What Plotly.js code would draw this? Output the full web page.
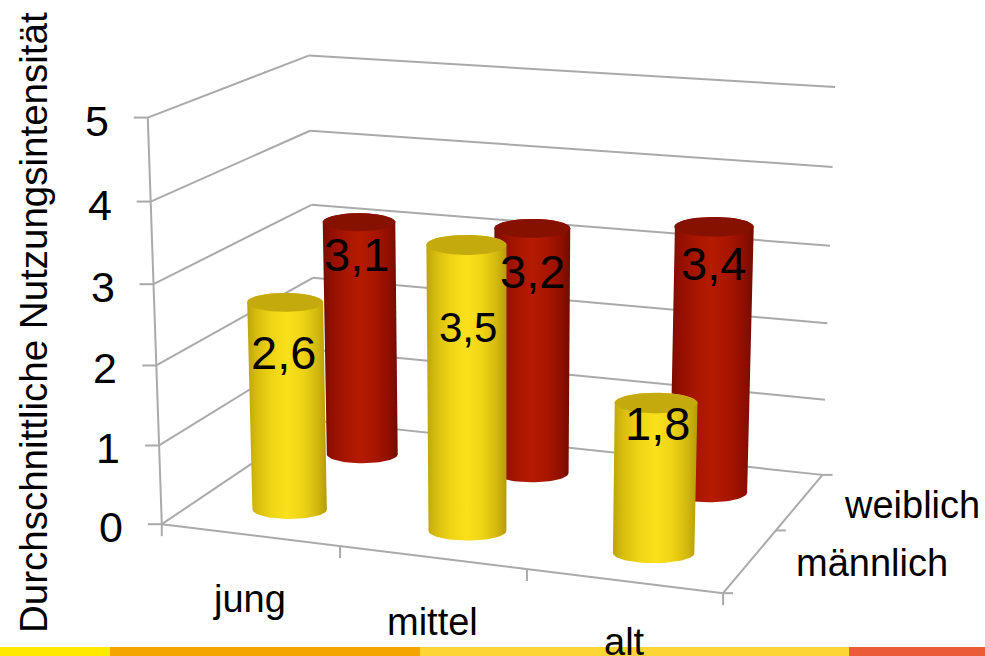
<!DOCTYPE html>
<html><head><meta charset="utf-8"><script src="https://cdn.plot.ly/plotly-3.0.1.min.js"></script>
<style>html,body{margin:0;padding:0;background:#fff}#chart{width:985px;height:656px}</style></head>
<body><div id="chart"></div>
<script>
const ageGroups=['jung','mittel','alt'];
const genders=['männlich','weiblich'];
const maleValues=[2.6,3.5,1.8];
const femaleValues=[3.1,3.2,3.4];
const maleLabels=['2,6','3,5','1,8'];
const femaleLabels=['3,1','3,2','3,4'];
const valueTicks=[0,1,2,3,4,5];
const axisTitle='Durchschnittliche Nutzungsintensität';

// Projective camera: (category, gender, value) -> page pixels / 1000
const camera=[0.170414,0.095913,-0.003977,0.161797,0.009307,-0.026394,-0.082257,0.524192,-0.023071,0.060350,-0.007928];
function project(x,y,z){
  const c=camera,w=c[8]*x+c[9]*y+c[10]*z+1;
  return [1000*(c[0]*x+c[1]*y+c[2]*z+c[3])/w,1000*(c[4]*x+c[5]*y+c[6]*z+c[7])/w];
}
function add(p,dx,dy){return [p[0]+dx,p[1]+dy]}

const lineColor='#aaaaaa',textFont={family:'Liberation Sans, Arial, sans-serif',color:'#000'};
const traces=[];
function segment(a,b){traces.push({x:[a[0],b[0]],y:[a[1],b[1]],mode:'lines',line:{color:lineColor,width:2},hoverinfo:'skip'})}

// Wall gridlines, floor edges and tick stubs
valueTicks.forEach(z=>{
  segment(project(0,0,z),project(0,2,z));
  segment(project(0,2,z),project(3,2,z));
  const p=project(0,0,z);segment(add(p,-14,0),p);
});
segment(project(0,0,0),project(3,0,0));
segment(project(3,0,0),project(3,2,0));
segment(project(0,0,0),project(0,0,5));
[0,1,2,3].forEach(i=>{const p=project(i,0,0);segment(p,add(p,0,12))});
[0,1,2].forEach(i=>{const p=project(3,i,0);segment(p,add(p,10,0))});

// Cylinders: outline of both end caps, horizontal shading on the side, flat colour on top
function ellipse(cx,cy,z,r){
  const c=project(cx,cy,z);
  const a=Math.abs(project(cx+r,cy,z)[0]-project(cx-r,cy,z)[0])/2,b=a*0.25,out=[];
  for(let k=0;k<64;k++){const t=2*Math.PI*k/64;out.push([c[0]+a*Math.cos(t),c[1]+b*Math.sin(t)])}
  return out;
}
function hull(points){
  const s=points.slice().sort((a,b)=>a[0]-b[0]||a[1]-b[1]);
  const cr=(o,a,b)=>(a[0]-o[0])*(b[1]-o[1])-(a[1]-o[1])*(b[0]-o[0]);
  const lo=[];for(const p of s){while(lo.length>1&&cr(lo[lo.length-2],lo[lo.length-1],p)<=0)lo.pop();lo.push(p)}
  const up=[];for(const p of s.slice().reverse()){while(up.length>1&&cr(up[up.length-2],up[up.length-1],p)<=0)up.pop();up.push(p)}
  return lo.slice(0,-1).concat(up.slice(0,-1));
}
function closed(points){const q=points.concat([points[0]]);return {x:q.map(p=>p[0]),y:q.map(p=>p[1])}}
function cylinder(cx,cy,h,baseZ,side,top){
  const r=0.214,base=ellipse(cx,cy,baseZ,r),cap=ellipse(cx,cy,h,r);
  const s=closed(hull(base.concat(cap)));
  traces.push({x:s.x,y:s.y,mode:'lines',fill:'toself',line:{width:0},fillgradient:{type:'horizontal',colorscale:side},hoverinfo:'skip'});
  const t=closed(cap);
  traces.push({x:t.x,y:t.y,mode:'lines',fill:'toself',fillcolor:top,line:{width:0},hoverinfo:'skip'});
}
const redSide=[[0,'#760d00'],[.12,'#930f00'],[.3,'#a81500'],[.5,'#b51b00'],[.7,'#a81500'],[.88,'#900f00'],[1,'#700c00']];
const yellowSide=[[0,'#bda40a'],[.12,'#d8bd10'],[.3,'#eed414'],[.5,'#fbe01c'],[.7,'#eed414'],[.88,'#d2b80e'],[1,'#b59c08']];
femaleValues.forEach((v,i)=>cylinder(i+.5,1.5,v,-0.012,redSide,'#871100'));
maleValues.forEach((v,i)=>cylinder(i+.5,.5,v,-0.045,yellowSide,'#c5aa0e'));

// Text
const notes=[];
function note(p,text,size,extra){
  notes.push(Object.assign({x:p[0],y:p[1],xref:'x',yref:'y',text,showarrow:false,font:Object.assign({size},textFont)},extra||{}));
}
const maleOffset=[[-2,50],[2,83],[1,20]],femaleOffset=[[-3,32],[0,43],[0,37]];
const maleSize=[47,42,47],femaleSize=[47,47,47];
maleValues.forEach((v,i)=>note(add(project(i+.5,.5,v),maleOffset[i][0],maleOffset[i][1]),maleLabels[i],maleSize[i]));
femaleValues.forEach((v,i)=>note(add(project(i+.5,1.5,v),femaleOffset[i][0],femaleOffset[i][1]),femaleLabels[i],femaleSize[i]));
valueTicks.forEach(z=>note(add(project(0,0,z),-51,3),String(z),43));
const categoryOffset=[[0,64],[0,65],[1,61]];
ageGroups.forEach((g,i)=>note(add(project(i+.5,0,0),categoryOffset[i][0],categoryOffset[i][1]),g,38));
const genderOffset=[[44,2],[42,3]];
genders.forEach((g,i)=>note(add(project(3,i+.5,0),genderOffset[i][0],genderOffset[i][1]),g,38,{xanchor:'left'}));
note([33,323],axisTitle,38.5,{textangle:-90});

// Coloured band along the bottom edge
const strip=[[0,110,'#ffe900'],[110,420,'#f5a500'],[420,849,'#fdd535'],[849,985,'#ec5b38']];
Plotly.newPlot('chart',traces,{
  width:985,height:656,margin:{l:0,r:0,t:0,b:0,pad:0},showlegend:false,paper_bgcolor:'#fff',plot_bgcolor:'#fff',
  xaxis:{range:[0,985],visible:false,fixedrange:true},
  yaxis:{range:[656,0],visible:false,fixedrange:true},
  annotations:notes,
  shapes:strip.map(s=>({type:'rect',xref:'x',yref:'y',x0:s[0],x1:s[1],y0:647,y1:656,fillcolor:s[2],line:{width:0},layer:'above'}))
},{displayModeBar:false});
</script></body></html>
